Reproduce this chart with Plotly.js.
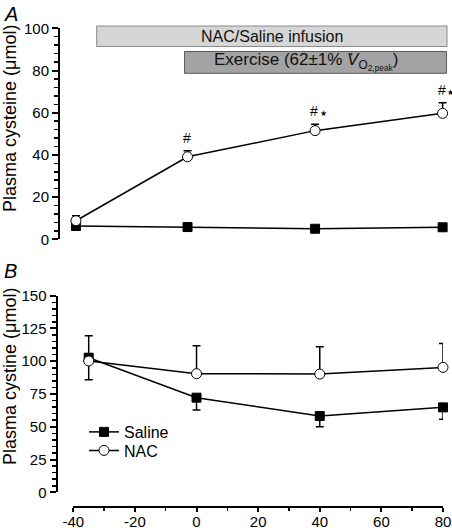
<!DOCTYPE html>
<html>
<head>
<meta charset="utf-8">
<script src="https://cdn.plot.ly/plotly-3.0.1.min.js"></script>
<style>html,body{margin:0;padding:0;background:#fff;}#chart{width:452px;height:528px;}</style>
</head>
<body>
<div id="chart"></div>
<script>
// ---- data ----
const times = [-35, 0, 40, 80];

// Panel A: plasma cysteine (umol)
const cysteineSaline = [6.3, 5.8, 5.0, 5.7];
const cysteineNAC = [8.8, 39.1, 51.5, 59.7];
const cysteineNACErr = [2.4, 2.9, 3.0, 5.0];
const sigHash = [false, true, true, true];   // '#' marks
const sigStar = [false, false, true, true];  // '*' marks

// Panel B: plasma cystine (umol)
const cystineSaline = [102.7, 72.2, 58.2, 64.8];
const cystineSalineErr = [16.8, 9.4, 8.2, 9.1];
const cystineNAC = [100.2, 90.5, 90.2, 95.3];
const cystineNACErr = [19.3, 21.3, 20.9, 18.3];

const yTicksA = [0, 20, 40, 60, 80, 100];
const yTicksB = [0, 25, 50, 75, 100, 125, 150];
const xTicksB = [-40, -20, 0, 20, 40, 60, 80];
const seriesNames = ['Saline', 'NAC'];

// ---- page geometry helpers (pixels -> paper) ----
const W = 452, H = 528;
const px = v => v / W;
const py = v => 1 - v / H;
const FONT = 'Liberation Sans, Arial, Helvetica, sans-serif';
const zeros = times.map(() => 0);

const salineStyle = {
  mode: 'lines+markers',
  line: {color: '#000', width: 1.5},
  marker: {symbol: 'square', size: 9, color: '#000', line: {color: '#000', width: 1}},
  cliponaxis: false
};
const nacStyle = {
  mode: 'lines+markers',
  line: {color: '#000', width: 1.5},
  marker: {symbol: 'circle', size: 10, color: '#fff', line: {color: '#000', width: 1}},
  cliponaxis: false
};
const errStyle = {type: 'data', symmetric: false, color: '#000', thickness: 1.5, width: 4};

const traces = [
  Object.assign({}, salineStyle, {x: times, y: cysteineSaline, xaxis: 'x', yaxis: 'y', showlegend: false, name: seriesNames[0]}),
  Object.assign({}, nacStyle, {x: times, y: cysteineNAC, xaxis: 'x', yaxis: 'y', showlegend: false, name: seriesNames[1],
    error_y: Object.assign({}, errStyle, {array: cysteineNACErr, arrayminus: zeros})}),
  Object.assign({}, salineStyle, {x: times, y: cystineSaline, xaxis: 'x2', yaxis: 'y2', name: seriesNames[0],
    legend: 'legend',
    error_y: Object.assign({}, errStyle, {array: zeros, arrayminus: cystineSalineErr})}),
  Object.assign({}, nacStyle, {x: times, y: cystineNAC, xaxis: 'x2', yaxis: 'y2', name: seriesNames[1],
    legend: 'legend2',
    error_y: Object.assign({}, errStyle, {array: cystineNACErr, arrayminus: zeros})})
];

const axisCommon = {
  showline: true, linecolor: '#000', linewidth: 2,
  ticks: 'outside', tickcolor: '#000', tickwidth: 2, ticklen: 6,
  showgrid: false, zeroline: false, fixedrange: true,
  tickfont: {family: FONT, size: 15, color: '#000'}
};

const annotations = [];
// significance markers above NAC error bars
times.forEach((t, i) => {
  const yTop = cysteineNAC[i] + cysteineNACErr[i];
  if (sigHash[i]) annotations.push({
    xref: 'x', yref: 'y', x: t, y: yTop, text: '#', showarrow: false,
    xanchor: 'center', yanchor: 'bottom', xshift: -1, yshift: 3,
    font: {family: FONT, size: 14, color: '#000'}
  });
  if (sigStar[i]) annotations.push({
    xref: 'x', yref: 'y', x: t, y: yTop, text: '\u2605', showarrow: false,
    xanchor: 'center', yanchor: 'bottom', xshift: 8, yshift: 4,
    font: {family: 'DejaVu Sans', size: 8, color: '#000'}
  });
});
// panel letters
annotations.push({xref: 'paper', yref: 'paper', x: px(2), y: py(1), xanchor: 'left', yanchor: 'top',
  text: '<i>A</i>', showarrow: false, font: {family: FONT, size: 20, color: '#000'}});
annotations.push({xref: 'paper', yref: 'paper', x: px(2), y: py(258), xanchor: 'left', yanchor: 'top',
  text: '<i>B</i>', showarrow: false, font: {family: FONT, size: 20, color: '#000'}});
// axis titles
annotations.push({xref: 'paper', yref: 'paper', x: px(10), y: py(119), xanchor: 'center', yanchor: 'middle',
  textangle: -90, text: 'Plasma cysteine (\u03bcmol)', showarrow: false, font: {family: FONT, size: 18, color: '#000'}});
annotations.push({xref: 'paper', yref: 'paper', x: px(10), y: py(377), xanchor: 'center', yanchor: 'middle',
  textangle: -90, text: 'Plasma cystine (\u03bcmol)', showarrow: false, font: {family: FONT, size: 18, color: '#000'}});
// box labels
annotations.push({xref: 'paper', yref: 'paper', x: px(271.8), y: py(36.3), xanchor: 'center', yanchor: 'middle',
  text: 'NAC/Saline infusion', showarrow: false, font: {family: FONT, size: 16, color: '#111'}});
annotations.push({xref: 'paper', yref: 'paper', x: px(306), y: py(61.5), xanchor: 'center', yanchor: 'middle',
  text: 'Exercise (62\u00b11% <i>V</i><sub>O<sub>2,peak</sub></sub>)', showarrow: false,
  font: {family: FONT, size: 17, color: '#111'}});

const shapes = [
  {type: 'rect', xref: 'paper', yref: 'paper', x0: px(96.7), x1: px(447), y0: py(46.5), y1: py(26),
   fillcolor: '#d6d6d6', line: {color: '#8a8a8a', width: 1}, layer: 'below'},
  {type: 'rect', xref: 'paper', yref: 'paper', x0: px(184.5), x1: px(446.5), y0: py(73.3), y1: py(51.5),
   fillcolor: '#a3a3a3', line: {color: '#5a5a5a', width: 1}, layer: 'below'},
  // the "rate" dot above the V of V-dot-O2
  {type: 'circle', xref: 'paper', yref: 'paper', x0: px(350.5), x1: px(352.5), y0: py(55.3), y1: py(53.3),
   fillcolor: '#111', line: {width: 0}, layer: 'above'}
];

const legendCommon = {xanchor: 'left', yanchor: 'top', bgcolor: 'rgba(0,0,0,0)',
  font: {family: FONT, size: 16, color: '#000'}, itemwidth: 30, tracegroupgap: 0};

const layout = {
  width: W, height: H,
  margin: {l: 0, r: 0, t: 0, b: 0},
  paper_bgcolor: '#fff', plot_bgcolor: 'rgba(0,0,0,0)',
  font: {family: FONT, color: '#000'},
  showlegend: true,
  legend: Object.assign({}, legendCommon, {x: px(84), y: py(415)}),
  legend2: Object.assign({}, legendCommon, {x: px(84), y: py(433.5)}),
  xaxis: {domain: [px(60), px(449)], range: [-40, 82], visible: false, anchor: 'y', fixedrange: true},
  yaxis: Object.assign({}, axisCommon, {domain: [py(239.3), py(28.3)], range: [0, 100], anchor: 'x',
    tickvals: yTicksA, ticktext: yTicksA.map(String),
    minor: {dtick: 4, tick0: 0, ticks: 'outside', ticklen: 4, tickwidth: 1.5, tickcolor: '#000'}}),
  xaxis2: Object.assign({}, axisCommon, {domain: [px(73.3), px(443)], range: [-40, 80], anchor: 'free',
    position: py(506.7), ticklen: 4, ticklabelstandoff: -3, tickvals: xTicksB, ticktext: xTicksB.map(String),
    minor: {dtick: 10, tick0: 0, ticks: 'outside', ticklen: 3, tickwidth: 1.5, tickcolor: '#000'}}),
  yaxis2: Object.assign({}, axisCommon, {domain: [py(492.3), py(295.7)], range: [0, 150], anchor: 'free',
    position: px(56.5), tickvals: yTicksB, ticktext: yTicksB.map(String),
    minor: {dtick: 5, tick0: 0, ticks: 'outside', ticklen: 4, tickwidth: 1.5, tickcolor: '#000'}}),
  annotations: annotations,
  shapes: shapes
};

Plotly.newPlot('chart', traces, layout, {displayModeBar: false, staticPlot: true});
</script>
</body>
</html>
